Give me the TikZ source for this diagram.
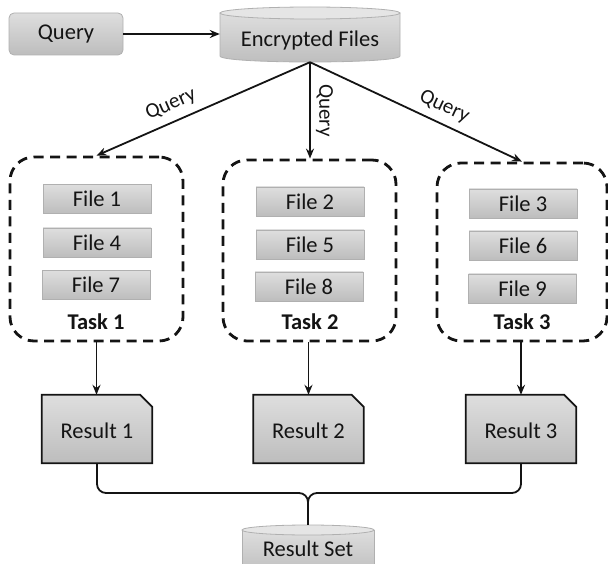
\documentclass[tikz,border=0pt]{standalone}
\usepackage{fontspec}
\setmainfont{Carlito}
\usetikzlibrary{arrows.meta,backgrounds}
\definecolor{boxtop}{HTML}{DEDEDE}
\definecolor{boxbot}{HTML}{BDBDBD}
\definecolor{boxline}{HTML}{B0B0B0}
\definecolor{ink}{HTML}{141414}
\begin{document}
\begin{tikzpicture}[x=1pt,y=-1pt,
  every node/.style={font=\fontsize{22.5}{26}\selectfont, text=ink},
  gbox/.style={draw=boxline, line width=0.8pt, top color=boxtop, bottom color=boxbot, inner sep=0pt},
  filebox/.style={gbox, minimum width=108pt, minimum height=29pt},
  taskbox/.style={draw=ink, line width=2.8pt, dash pattern=on 10pt off 6.5pt, rounded corners=24pt, inner sep=0pt},
  tasklabel/.style={font=\bfseries\fontsize{22.5}{26}\selectfont},
  reslabel/.style={minimum width=110pt, minimum height=68pt, inner sep=0pt},
  resshape/.style={draw=ink, line width=1.8pt, top color=boxtop, bottom color=boxbot},
  arr/.style={draw=ink, line width=1.8pt, -{Stealth[length=10pt,width=8pt]}},
  conn/.style={draw=ink, line width=1.8pt},
  qlab/.style={font=\fontsize{21}{24}\selectfont}
]
\useasboundingbox (0,0) rectangle (608,564);

% Query box
\node[gbox, rounded corners=5pt, minimum width=114pt, minimum height=42pt] (query) at (66,34) {Query};

% Encrypted Files cylinder
\path[top color=boxtop, bottom color=boxbot, draw=boxline, line width=0.8pt]
  (220,13) -- (220,56) .. controls (220,64) and (400,64) .. (400,56) -- (400,13) -- cycle;
\draw[draw=boxline, line width=0.8pt, fill=boxtop!80] (310,13) ellipse[x radius=90, y radius=6];
\node[minimum width=180pt, minimum height=42pt, inner sep=0pt] (enc) at (310,41) {Encrypted Files};

\draw[arr] (query.east) -- (query.east -| enc.west);

% Task boxes
\node[taskbox, minimum width=173pt, minimum height=184pt] (t1) at (96.5,249) {};
\node[taskbox, minimum width=173pt, minimum height=181pt] (t2) at (309.5,250.5) {};
\node[taskbox, minimum width=170pt, minimum height=178pt] (t3) at (522,252) {};

% Query connectors
\draw[arr] (enc.south) -- (t1.north) node[qlab, pos=0.62, sloped, above=4pt] {Query};
\draw[arr] (enc.south) -- (enc.south |- t2.north) node[qlab, pos=0.5, rotate=-90, anchor=south, inner sep=5pt] {Query};
\draw[arr] (enc.south) -- (t3.north) node[qlab, pos=0.6, sloped, above=4pt] {Query};

% Files
\node[filebox] (f1) at (97,199) {File 1};
\node[filebox] (f4) at (97,242.5) {File 4};
\node[filebox] (f7) at (96,285) {File 7};
\node[filebox] (f2) at (310,201.5) {File 2};
\node[filebox] (f5) at (310,244.5) {File 5};
\node[filebox] (f8) at (309,286.5) {File 8};
\node[filebox] (f3) at (523,203.5) {File 3};
\node[filebox] (f6) at (523,245.5) {File 6};
\node[filebox] (f9) at (522.5,288.5) {File 9};

% Task labels
\node[tasklabel] (l1) at (96,322) {Task 1};
\node[tasklabel] (l2) at (310,322) {Task 2};
\node[tasklabel] (l3) at (522,322) {Task 3};

% Results
\node[reslabel] (r1) at (97,431) {Result 1};
\node[reslabel] (r2) at (308.5,431) {Result 2};
\node[reslabel] (r3) at (521,431) {Result 3};
\begin{scope}[on background layer]
  \foreach \r in {r1,r2,r3}{
    \path[resshape] ([yshift=2pt]\r.south west) -- ([yshift=2pt]\r.north west) -- ([xshift=-12pt,yshift=2pt]\r.north east)
      -- ([yshift=-10pt]\r.north east) -- ([yshift=2pt]\r.south east) -- cycle;
  }
\end{scope}

\draw[arr] (t1.south) -- ([yshift=2pt]t1.south |- r1.north);
\draw[arr] (r2.north |- t2.south) -- ([yshift=2pt]r2.north);
\draw[arr] (r3.north |- t3.south) -- ([yshift=2pt]r3.north);

% Result Set cylinder
\path[top color=boxtop, bottom color=boxbot, draw=boxline, line width=0.8pt]
  (242,530) -- (242,575) -- (374,575) -- (374,530) -- cycle;
\draw[draw=boxline, line width=0.8pt, fill=boxtop!80] (308,530) ellipse[x radius=66, y radius=5];
\node[minimum width=132pt, minimum height=48pt, inner sep=0pt] (rs) at (308,549) {Result Set};

% Brace
\coordinate (bj) at (308,493);
\draw[conn, rounded corners=9pt] ([yshift=2pt]r1.south) |- (bj) -- (rs.north);
\draw[conn, rounded corners=9pt] ([yshift=2pt]r3.south) |- (bj) -- (rs.north);
\end{tikzpicture}
\end{document}
